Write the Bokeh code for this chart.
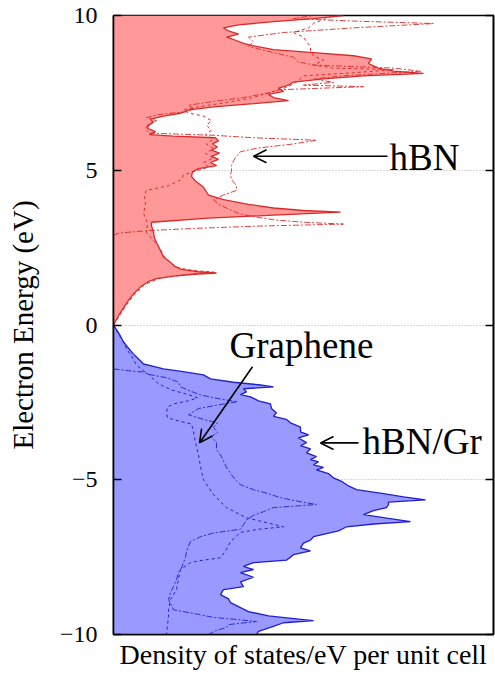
from bokeh.plotting import figure
from bokeh.models import (ColumnDataSource, LinearAxis, Arrow, OpenHead, Label,
                          FixedTicker, Range1d)
from bokeh.embed import file_html
from bokeh.resources import INLINE

# ---------------- data (energy in eV, DOS in states/eV per unit cell, arbitrary scale) -------------
# hBN/Gr total DOS, conduction side
cb_tot_E = [0.0, 0.3, 0.6, 0.8, 1.0, 1.2, 1.3, 1.42, 1.5, 1.58, 1.64, 1.68, 1.72, 1.8, 1.9, 2.05,
            2.2, 2.4, 2.6, 2.8, 3.0, 3.2, 3.32, 3.45, 3.55, 3.65, 3.7, 3.78, 3.9, 4.05, 4.2,
            4.45, 4.65, 4.8, 4.95, 5.05, 5.15, 5.25, 5.35, 5.45, 5.55, 5.65, 5.75, 5.85, 5.95,
            6.05, 6.1, 6.15, 6.25, 6.35, 6.45, 6.55, 6.65, 6.75, 6.85, 6.95, 7.05, 7.15, 7.25,
            7.35, 7.45, 7.55, 7.65, 7.75, 7.85, 7.95, 8.05, 8.13, 8.2, 8.3, 8.45, 8.6, 8.7, 8.8,
            8.9, 9.0, 9.1, 9.2, 9.3, 9.4, 9.5, 9.6, 9.7, 9.8, 9.9, 10.0]
cb_tot_D = [0.0, 0.5, 1.1, 1.5, 2.0, 2.6, 3.0, 3.6, 4.3, 6.0, 8.0, 10.3, 8.5, 6.8, 6.1, 5.6,
            5.0, 4.7, 4.4, 4.1, 4.0, 3.8, 3.8, 9.5, 16.0, 22.7, 19.0, 16.0, 13.5, 11.0, 9.5,
            9.0, 8.2, 7.8, 7.9, 8.5, 10.3, 9.7, 10.5, 9.8, 10.6, 9.8, 10.4, 9.9, 10.5,
            10.2, 6.0, 3.6, 4.2, 3.4, 3.5, 4.0, 3.7, 5.0, 6.8, 7.6, 10.0, 14.0, 17.5,
            16.0, 15.5, 17.0, 16.5, 17.5, 18.0, 21.0, 25.0, 31.0, 28.0, 26.5, 25.5, 25.8, 24.0, 20.0,
            16.0, 14.3, 13.0, 12.2, 11.3, 12.5, 11.5, 11.0, 12.5, 16.0, 20.0, 23.0]

# hBN DOS, conduction side
cb_hbn_E = [2.9, 2.97, 3.05, 3.12, 3.2, 3.26, 3.32, 3.4, 3.5, 3.6, 3.75, 3.9, 4.05, 4.2, 4.35,
            4.5, 4.7, 4.85, 5.0, 5.15, 5.3, 5.45, 5.6, 5.72, 5.85, 5.97, 6.05, 6.13, 6.2, 6.35,
            6.5, 6.6, 6.7, 6.8, 6.9, 7.0, 7.1, 7.2, 7.35, 7.5, 7.6, 7.7, 7.75, 7.84, 7.95, 8.05,
            8.2, 8.3, 8.4, 8.5, 8.65, 8.8, 9.0, 9.15, 9.3, 9.45, 9.6, 9.74, 9.82, 9.9, 10.0]
cb_hbn_D = [0.0, 0.5, 3.5, 8.0, 15.0, 23.0, 19.0, 16.0, 14.0, 12.5, 11.5, 10.5, 10.0, 11.0, 12.3,
            12.3, 11.8, 11.7, 11.8, 11.8, 12.0, 12.3, 12.7, 14.5, 18.0, 20.3, 14.0, 10.0, 3.5, 3.2,
            3.5, 4.3, 3.3, 4.5, 7.5, 8.0, 7.5, 9.5, 13.0, 15.5, 16.5, 25.0, 19.0, 22.0, 20.0, 23.0,
            30.7, 28.0, 20.0, 18.5, 18.0, 16.0, 13.5, 14.0, 13.5, 17.0, 24.0, 32.0, 24.0, 18.0, 20.0]

# graphene DOS, conduction side
cb_gr_E = [0.0, 0.3, 0.6, 1.0, 1.3, 1.5, 1.6, 1.71, 1.76, 1.85, 2.0, 2.2, 2.5, 2.8, 3.0, 3.3,
           3.6, 3.9, 4.2, 4.35, 4.5, 4.7, 4.85, 4.95, 5.1, 5.25, 5.4, 5.55, 5.7, 5.85, 6.0, 6.15,
           6.3, 6.45, 6.6, 6.75, 6.85, 6.95, 7.05, 7.2, 7.35, 7.5, 7.7, 7.9, 8.05, 8.15, 8.25,
           8.3, 8.4, 8.55, 8.7, 8.85, 9.0, 9.15, 9.3, 9.45, 9.6, 9.75, 9.9, 10.0]
cb_gr_D = [0.0, 0.6, 1.2, 2.1, 3.1, 4.5, 6.6, 10.0, 8.0, 6.4, 5.7, 5.1, 4.6, 3.8, 3.3, 3.4,
           3.0, 3.2, 3.1, 3.3, 5.5, 6.8, 7.0, 8.0, 9.5, 9.0, 10.0, 9.2, 10.0, 9.3, 10.0, 9.2,
           9.8, 9.3, 9.8, 9.0, 7.5, 7.0, 8.5, 11.5, 14.0, 15.5, 17.5, 18.5, 19.0, 24.0, 28.0,
           22.0, 20.0, 21.0, 20.0, 19.7, 19.7, 19.3, 19.0, 18.0, 19.5, 20.0, 21.3, 22.0]

# hBN/Gr total DOS, valence side
vb_tot_E = [0.0, -0.3, -0.55, -0.75, -0.94, -1.1, -1.26, -1.32, -1.42, -1.5, -1.61, -1.74,
            -1.85, -1.93, -2.0, -2.06, -2.16, -2.25, -2.32, -2.45, -2.55, -2.7, -2.84, -2.95,
            -3.05, -3.16, -3.3, -3.45, -3.55, -3.65, -3.8, -3.9, -4.0, -4.13, -4.25, -4.35,
            -4.42, -4.52, -4.6, -4.68, -4.8, -4.94, -5.05, -5.2, -5.32, -5.45, -5.55, -5.65,
            -5.72, -5.8, -5.9, -6.0, -6.13, -6.25, -6.35, -6.43, -6.52, -6.65, -6.84, -6.95,
            -7.05, -7.2, -7.3, -7.42, -7.5, -7.6, -7.68, -7.8, -7.9, -8.0, -8.15, -8.3, -8.45,
            -8.55, -8.71, -8.85, -8.97, -9.1, -9.26, -9.4, -9.5, -9.55, -9.62, -9.77, -9.9, -10.0]
vb_tot_D = [0.0, 0.6, 1.0, 1.5, 2.0, 2.5, 3.0, 3.8, 5.0, 6.8, 9.0, 9.7,
            12.0, 14.5, 16.0, 13.0, 13.3, 12.7, 13.7, 14.5, 15.7, 15.8, 16.3, 16.0,
            17.3, 17.7, 18.7, 18.7, 19.5, 18.5, 19.3, 18.7, 19.7, 19.3, 20.3, 19.7,
            20.5, 20.0, 21.0, 20.3, 21.5, 22.0, 22.8, 23.5, 24.3, 27.0, 29.0, 31.2,
            27.5, 27.5, 27.3, 26.0, 25.0, 27.5, 29.7, 26.0, 23.3, 22.5, 20.0, 19.7,
            19.0, 18.7, 19.7, 18.0, 17.7, 17.3, 14.0, 13.0, 14.0, 12.7, 14.0, 12.7, 13.0,
            11.0, 10.7, 11.5, 11.7, 12.5, 13.5, 15.5, 18.5, 20.0, 17.0, 15.7, 14.5, 14.3]

# hBN DOS, valence side
vb_hbn_E = [-1.42, -1.48, -1.52, -1.6, -1.71, -1.85, -2.0, -2.15, -2.26, -2.38, -2.48, -2.55,
            -2.7, -2.9, -3.05, -3.16, -3.3, -3.48, -3.6, -3.8, -4.03, -4.2, -4.4, -4.6, -4.84,
            -5.0, -5.16, -5.32, -5.45, -5.58, -5.7, -5.8, -5.9, -6.03, -6.15, -6.3, -6.45, -6.6,
            -6.72, -6.84, -7.0, -7.15, -7.32, -7.5, -7.68, -7.85, -8.0, -8.23, -8.45, -8.65,
            -8.87, -9.0, -9.2, -9.35, -9.45, -9.52, -9.58, -9.68, -9.77, -9.88, -10.0]
vb_hbn_D = [0.0, 1.5, 3.0, 3.6, 5.4, 6.5, 6.7, 7.8, 8.7, 10.5, 12.4, 11.0,
            8.5, 7.5, 9.0, 10.4, 10.0, 10.4, 9.8, 10.3, 10.3, 10.7, 11.0, 11.3, 11.8,
            12.2, 12.7, 14.0, 15.5, 16.7, 18.5, 20.3, 16.0, 15.0, 14.0, 13.3, 13.0, 12.7,
            10.0, 8.7, 7.7, 7.5, 7.3, 7.2, 7.0, 6.8, 6.5, 6.3, 6.0, 5.7,
            5.5, 5.7, 6.0, 8.5, 10.0, 12.5, 14.3, 11.5, 11.3, 10.2, 9.5]

# graphene DOS, valence side
vb_gr_E = [0.0, -0.3, -0.55, -0.77, -1.0, -1.3, -1.6, -1.9, -2.1, -2.25, -2.35, -2.45, -2.55,
           -2.65, -2.85, -3.0, -3.1, -3.2, -3.45, -3.8, -4.2, -4.58, -5.0, -5.48, -5.9, -6.23,
           -6.4, -6.52, -6.6, -6.7, -7.0, -7.3, -7.52, -7.62, -7.68, -7.9, -8.2, -8.55, -8.87,
           -9.2, -9.42, -9.7, -10.0]
vb_gr_D = [0.0, 0.5, 1.0, 1.3, 1.8, 2.3, 3.5, 4.5, 5.8, 7.5, 8.4, 7.5, 6.0,
           5.4, 5.3, 5.4, 6.5, 7.8, 8.0, 8.2, 8.5, 8.7, 9.0, 10.0, 11.3, 13.3,
           15.5, 17.0, 14.5, 12.7, 11.7, 11.2, 10.7, 8.5, 7.7, 6.7, 6.5, 6.3, 5.7,
           5.5, 5.5, 5.4, 5.3]

y_ticks = [-10, -5, 0, 5, 10]
y_tick_labels = {-10: "\u221210", -5: "\u22125", 0: "0", 5: "5", 10: "10"}
right_tick_labels = {-10: "", -5: "", 0: "", 5: "", 10: ""}

# ---------------- styles ----------------
RED_FILL = "#ff9999"
RED_LINE = "#d92b2b"
BLUE_FILL = "#9999ff"
BLUE_LINE = "#1f1fd0"
FONT = "Liberation Serif"
DASHDOT = "6 2 2 2"
DASHED = "3 3"

p = figure(width=495, height=677, output_backend="svg", toolbar_location=None,
           x_range=Range1d(0, 38), y_range=Range1d(-10, 10))
p.min_border_left = 113
p.min_border_right = 2
p.min_border_top = 15
p.min_border_bottom = 43
p.background_fill_color = "white"
p.border_fill_color = "white"
p.outline_line_color = "black"
p.outline_line_width = 1.6

cb_tot = ColumnDataSource(dict(E=cb_tot_E, D=cb_tot_D))
vb_tot = ColumnDataSource(dict(E=vb_tot_E, D=vb_tot_D))

p.harea(x1=0, x2="D", y="E", source=cb_tot, fill_color=RED_FILL, fill_alpha=1.0)
p.harea(x1=0, x2="D", y="E", source=vb_tot, fill_color=BLUE_FILL, fill_alpha=1.0)

p.line("D", "E", source=cb_tot, line_color=RED_LINE, line_width=1.3)
p.line(cb_hbn_D, cb_hbn_E, line_color=RED_LINE, line_width=0.9, line_dash=DASHDOT)
p.line(cb_gr_D, cb_gr_E, line_color=RED_LINE, line_width=1.0, line_dash=DASHED)

p.line("D", "E", source=vb_tot, line_color=BLUE_LINE, line_width=1.3)
p.line(vb_hbn_D, vb_hbn_E, line_color=BLUE_LINE, line_width=0.9, line_dash=DASHDOT)
p.line(vb_gr_D, vb_gr_E, line_color=BLUE_LINE, line_width=1.0, line_dash=DASHED)

# axes
tick = FixedTicker(ticks=y_ticks)
yax = p.yaxis[0]
yax.ticker = tick
yax.major_label_overrides = y_tick_labels
yax.major_tick_in = 8
yax.major_tick_out = 0
yax.major_tick_line_width = 1.6
yax.minor_tick_line_color = None
yax.axis_line_width = 1.6
yax.major_label_standoff = 16
yax.major_label_text_font = FONT
yax.major_label_text_font_size = "24px"
yax.major_label_text_color = "black"
yax.axis_label = "Electron Energy (eV)"
yax.axis_label_text_font = FONT
yax.axis_label_text_font_size = "29px"
yax.axis_label_text_font_style = "normal"
yax.axis_label_text_color = "black"
yax.axis_label_standoff = 18

xax = p.xaxis[0]
xax.ticker = FixedTicker(ticks=[])
xax.major_tick_line_color = None
xax.minor_tick_line_color = None
xax.axis_line_width = 1.6
xax.axis_label = "Density of states/eV per unit cell"
xax.axis_label_text_font = FONT
xax.axis_label_text_font_size = "28px"
xax.axis_label_text_font_style = "normal"
xax.axis_label_text_color = "black"
xax.axis_label_standoff = 4

rax = LinearAxis(ticker=FixedTicker(ticks=y_ticks), major_label_overrides=right_tick_labels,
                 major_tick_in=8, major_tick_out=0, major_tick_line_width=1.6,
                 minor_tick_line_color=None, axis_line_width=1.6, major_label_standoff=0)
p.add_layout(rax, "right")

p.xgrid.visible = False
p.ygrid.ticker = tick
p.ygrid.grid_line_color = "#b0b0b0"
p.ygrid.grid_line_dash = "1 2"
p.ygrid.grid_line_width = 1

# annotations
for (x0, y0, x1, y1) in [(27.4, 5.45, 14.0, 5.45), (24.5, -3.81, 20.7, -3.81), (13.9, -1.35, 8.6, -3.81)]:
    p.add_layout(Arrow(end=OpenHead(size=13, line_width=1.6, line_color="black"),
                       x_start=x0, y_start=y0, x_end=x1, y_end=y1,
                       line_width=1.6, line_color="black"))

for (x, y, t) in [(27.6, 5.42, "hBN"), (24.9, -3.77, "hBN/Gr"), (11.6, -0.67, "Graphene")]:
    p.add_layout(Label(x=x, y=y, text=t, text_font=FONT, text_font_size="37px",
                       text_color="black", text_baseline="alphabetic"))

open("out.html", "w").write(file_html(p, INLINE))
